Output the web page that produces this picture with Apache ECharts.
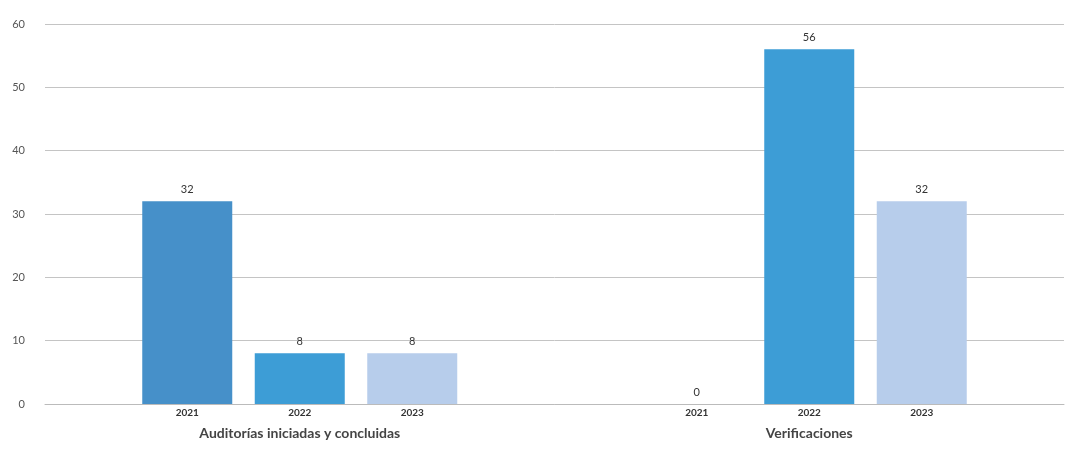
<!DOCTYPE html>
<html>
<head>
<meta charset="utf-8">
<script src="https://cdn.jsdelivr.net/npm/echarts@6/dist/echarts.min.js"></script>
<style>html,body{margin:0;padding:0;background:#fff}#c{width:1069px;height:451px}</style>
</head>
<body>
<div id="c"></div>
<script>
const groups = ['Auditorías iniciadas y concluidas', 'Verificaciones'];
const years = ['2021', '2022', '2023'];
const v2021 = [32, 0];
const v2022 = [8, 56];
const v2023 = [8, 32];
const yTicks = [0, 10, 20, 30, 40, 50, 60];

const values = [v2021, v2022, v2023];
const colors = ['#4690c9', '#3d9dd6', '#b7cdeb'];
const font = 'Lato, "Open Sans", sans-serif';

const chart = echarts.init(document.getElementById('c'));
const series = [];
years.forEach((y, i) => {
  series.push({
    name: y, type: 'bar', xAxisIndex: 0, data: values[i],
    barWidth: 90, barGap: '25%',
    itemStyle: { color: colors[i] },
    label: { show: true, position: 'top', distance: 6, color: '#333', fontSize: 11, fontFamily: font },
    z: 3
  });
});
years.forEach((y, i) => {
  series.push({
    name: y + '_lbl', type: 'bar', xAxisIndex: 1, data: values[i],
    barWidth: 90, barGap: '25%', silent: true,
    itemStyle: { color: 'rgba(0,0,0,0)' },
    label: { show: true, position: 'bottom', distance: 4, formatter: () => y,
             color: '#333', fontSize: 10, fontWeight: 'bold', fontFamily: font },
    z: 1
  });
});

chart.setOption({
  animation: false,
  grid: { left: 45, right: 5, top: 24, bottom: 47 },
  xAxis: [
    { type: 'category', data: groups,
      axisLine: { show: true, lineStyle: { color: '#bbb' } }, axisTick: { show: false },
      axisLabel: { margin: 22, color: '#444', fontSize: 14, fontWeight: 'bold', fontFamily: font } },
    { type: 'category', data: groups, show: false }
  ],
  yAxis: {
    type: 'value', min: yTicks[0], max: yTicks[yTicks.length - 1], interval: 10,
    axisLine: { show: false }, axisTick: { show: false },
    axisLabel: { color: '#555', fontSize: 11, fontFamily: font, margin: 20 },
    splitLine: { lineStyle: { color: '#c4c4c4', width: 1 } }
  },
  series: series
});
</script>
</body>
</html>
